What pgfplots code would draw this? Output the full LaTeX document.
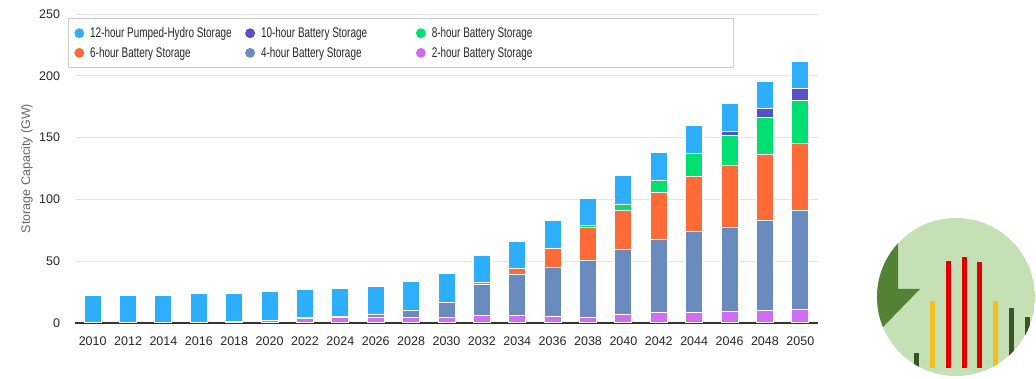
\documentclass[border=0pt]{standalone}
\usepackage{fontspec}
\setmainfont{Liberation Sans}
\newfontfamily\legfont{Liberation Sans}[FakeStretch=0.71]
\usepackage{pgfplots}
\pgfplotsset{compat=1.18}
\usepackage{pgfplotstable}

\definecolor{cHydro}{RGB}{46,174,255}
\definecolor{cTen}{RGB}{85,80,195}
\definecolor{cEight}{RGB}{0,224,112}
\definecolor{cSix}{RGB}{255,107,54}
\definecolor{cFour}{RGB}{106,139,190}
\definecolor{cTwo}{RGB}{211,108,245}
\definecolor{logoLight}{RGB}{197,224,180}
\definecolor{logoDark}{RGB}{84,130,53}
\definecolor{logoRed}{RGB}{224,0,0}
\definecolor{logoYellow}{RGB}{245,190,30}
\definecolor{logoDkGreen}{RGB}{55,86,35}

\pgfplotstableread{
idx h2 h4 h6 h8 h10 hydro
0 0.3 0 0 0 0 22.3
1 0.3 0 0 0 0 22.3
2 0.3 0 0 0 0 22.3
3 0.6 0 0 0 0 22.9
4 1.0 0 0 0 0 22.5
5 2.2 0 0 0 0 22.9
6 3.6 1.0 0 0 0 22.9
7 4.5 0.5 0 0 0 23.1
8 4.5 2.7 0 0 0 22.7
9 4.5 5.4 0 0 0 23.3
10 4.5 11.9 0 0 0 23.5
11 6.2 25.1 1.6 0 0 22.1
12 6.2 33.2 4.8 0 0 22.1
13 5.4 39.6 15.4 0 0 22.9
14 4.6 46.1 26.7 1.6 0 22.1
15 7.0 52.6 31.5 4.9 0 23.1
16 8.7 59.0 38.0 9.7 0 22.9
17 8.7 65.5 44.4 18.7 0 22.8
18 9.5 67.9 50.1 24.3 3.5 22.6
19 10.3 72.8 53.3 30.0 7.2 22.1
20 11.1 80.0 54.2 34.8 9.7 22.1
}\data

\begin{document}
\begin{tikzpicture}[x=1pt,y=1pt]
\path[use as bounding box] (0,0) rectangle (1036,379);
\begin{axis}[
  at={(75pt,56pt)}, anchor=south west,
  scale only axis, width=743pt, height=309pt,
  ybar stacked, bar width=17pt,
  clip=false,
  xmin=-0.5, xmax=20.5, ymin=0, ymax=250,
  xtick={0,...,20},
  xticklabels={2010,2012,2014,2016,2018,2020,2022,2024,2026,2028,2030,2032,2034,2036,2038,2040,2042,2044,2046,2048,2050},
  ytick={0,50,...,250},
  axis x line*=bottom, axis y line*=left,
  axis line style={draw=none},
  major tick length=0pt,
  ymajorgrids, grid style={draw=black!11, line width=0.9pt},
  /pgf/number format/assume math mode=true,
  tick label style={font=\fontsize{12.5}{15}\selectfont, text=black!85},
  xticklabel style={yshift=-10.5pt},
  yticklabel style={xshift=-11.5pt},
  ylabel={Storage Capacity (GW)},
  ylabel style={at={(axis description cs:-0.0646,0.5)}, anchor=center, rotate=0, font=\fontsize{12.5}{15}\selectfont, text=black!60},
  legend columns=3,
  legend cell align=left,
  legend style={at={(axis description cs:-0.0094,0.987)}, anchor=north west,
    draw=black!20, line width=0.8pt, fill=white,
    font=\legfont\fontsize{14}{15}\selectfont, text=black!85,
    inner xsep=6pt, inner ysep=7pt, row sep=4pt,
    /tikz/every odd column/.append style={column sep=4pt},
    /tikz/every even column/.append style={column sep=3pt}},
]
\addlegendimage{legend image code/.code={\fill[cHydro] (3pt,0pt) circle (4.5pt);}}
\addlegendentry{\makebox[150pt][l]{12-hour Pumped-Hydro Storage}}
\addlegendimage{legend image code/.code={\fill[cTen] (3pt,0pt) circle (4.5pt);}}
\addlegendentry{\makebox[150pt][l]{10-hour Battery Storage}}
\addlegendimage{legend image code/.code={\fill[cEight] (3pt,0pt) circle (4.5pt);}}
\addlegendentry{\makebox[294pt][l]{8-hour Battery Storage}}
\addlegendimage{legend image code/.code={\fill[cSix] (3pt,0pt) circle (4.5pt);}}
\addlegendentry{\makebox[150pt][l]{6-hour Battery Storage}}
\addlegendimage{legend image code/.code={\fill[cFour] (3pt,0pt) circle (4.5pt);}}
\addlegendentry{\makebox[150pt][l]{4-hour Battery Storage}}
\addlegendimage{legend image code/.code={\fill[cTwo] (3pt,0pt) circle (4.5pt);}}
\addlegendentry{\makebox[294pt][l]{2-hour Battery Storage}}

\addplot[fill=cTwo, draw=white, line width=1pt, forget plot] table[x=idx,y=h2]{\data};
\addplot[fill=cFour, draw=white, line width=1pt, forget plot] table[x=idx,y=h4]{\data};
\addplot[fill=cSix, draw=white, line width=1pt, forget plot] table[x=idx,y=h6]{\data};
\addplot[fill=cEight, draw=white, line width=1pt, forget plot] table[x=idx,y=h8]{\data};
\addplot[fill=cTen, draw=white, line width=1pt, forget plot] table[x=idx,y=h10]{\data};
\addplot[fill=cHydro, draw=white, line width=1pt, forget plot] table[x=idx,y=hydro]{\data};

\draw[color=black!80, line width=1.3pt] (axis cs:-0.5,0) -- (axis cs:20.5,0);
\end{axis}

% decorative logo
\begin{scope}
\clip (956,82) circle (79);
\fill[logoLight] (956,82) circle (79);
\fill[logoDark] (898,139) -- (898,90) -- (920,90) -- (850,18) -- (850,139) -- cycle;
\fill[logoDkGreen] (913.5,0) rectangle (918.5,26);
\fill[logoYellow] (929.5,11) rectangle (934.5,78);
\fill[logoRed] (945.5,11) rectangle (950.5,118);
\fill[logoRed] (961.5,11) rectangle (966.5,122);
\fill[logoRed] (976.5,11) rectangle (981.5,117);
\fill[logoYellow] (992.5,11) rectangle (997.5,78);
\fill[logoDkGreen] (1008.5,0) rectangle (1013.5,71);
\fill[logoDkGreen] (1024.5,0) rectangle (1029.5,62);
\end{scope}
\end{tikzpicture}
\end{document}
